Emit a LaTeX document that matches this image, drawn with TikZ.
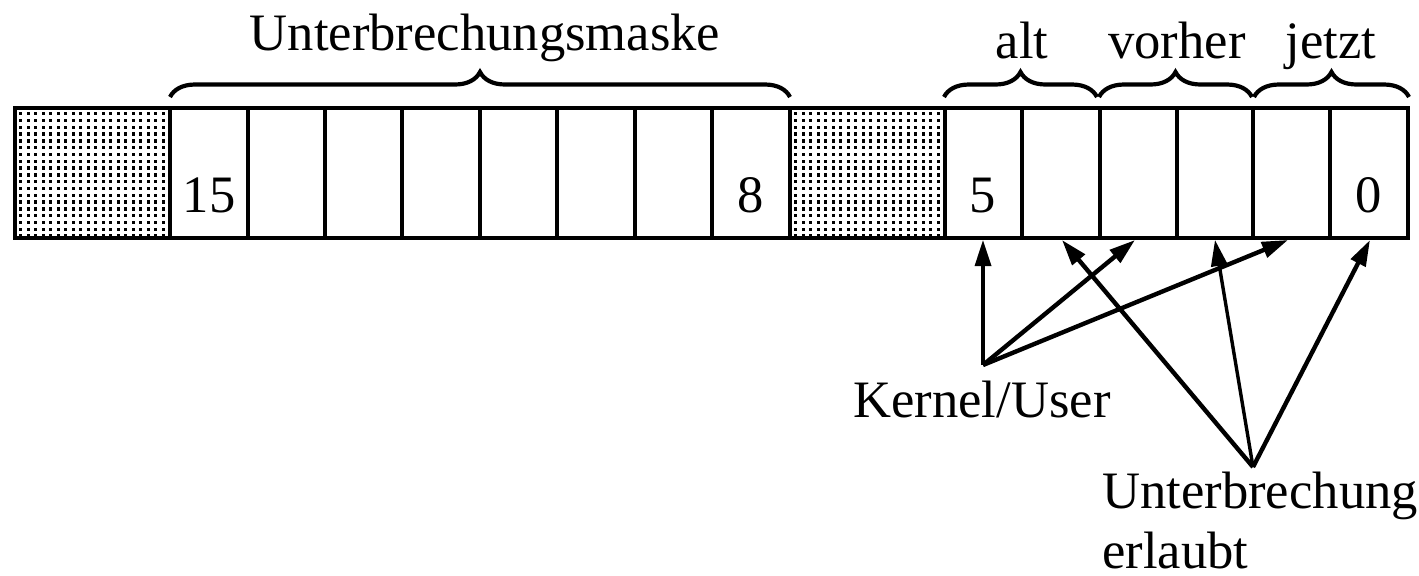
\documentclass[tikz,border=0pt]{standalone}
\usepackage{fontspec}
\setmainfont{Liberation Serif}
\usetikzlibrary{arrows.meta,decorations.pathreplacing}
\begin{document}
\begin{tikzpicture}[x=0.5pt,y=-0.5pt,
  reg/.style={line width=2.3pt},
  brc/.style={line width=2.1pt, decorate, decoration={brace,amplitude=12.5pt}},
  lbl/.style={font=\fontsize{26.3}{30}\selectfont, inner sep=0pt, anchor=base},
  arr/.style={line width=2.2pt, -{Triangle[length=13pt,width=8pt]}},
  arrthin/.style={line width=1.7pt, -{Triangle[length=13pt,width=8pt]}}]
\useasboundingbox (0,0) rectangle (1419,575);
% dotted (shaded) fields
\foreach \xa/\xb in {15/170, 790/945} {
  \begin{scope}
    \clip (\xa,108) rectangle (\xb,238);
    \foreach \i in {0,...,21} {
      \foreach \j in {0,...,19} {
        \fill (\xa+4+\i*7.5, 112+\j*6.8) rectangle ++(3.4,3.4);
      }
    }
  \end{scope}
}
% register
\foreach \x in {170,248,325,402,480,557,635,712,790,945,1022,1100,1177,1253,1330}
  \draw[reg] (\x,108) -- (\x,238);
\draw[reg] (15,108) rectangle (1408,238);
% bit numbers
\node[lbl] (n15) at (209,212) {15};
\node[lbl] (n8) at (751,212) {8};
\node[lbl] (n5) at (983,212) {5};
\node[lbl] (n0) at (1369,212) {0};
% braces
\draw[brc] (170,97) -- (790,97);
\draw[brc] (944,97) -- (1097,97);
\draw[brc] (1099,97) -- (1252,97);
\draw[brc] (1254,97) -- (1409,97);
\node[lbl] (mask) at (485,50) {Unterbrechungsmaske};
\node[lbl] (alt) at (1022,58) {alt};
\node[lbl] (vorher) at (1177,58) {vorher};
\node[lbl] (jetzt) at (1331,58) {jetzt};
% lower labels
\node[lbl] (ku) at (982,417) {Kernel/User};
\node[lbl, anchor=base west] (ue1) at (1102,508) {Unterbrechung};
\node[lbl, anchor=base west] (ue2) at (1102,568) {erlaubt};
% arrow sources and targets
\coordinate (kus) at (983,365);
\coordinate (ues) at (1253,467);
\coordinate (t5) at (983,240);
\coordinate (t3) at (1135,240);
\coordinate (t1) at (1288,240);
\coordinate (t4) at (1062,240);
\coordinate (t2) at (1215,240);
\coordinate (t0) at (1370,240);
\draw[arrthin] (kus) -- (t5);
\draw[arr] (kus) -- (t3);
\draw[arr] (kus) -- (t1);
\draw[arr] (ues) -- (t4);
\draw[arrthin] (ues) -- (t2);
\draw[arr] (ues) -- (t0);
\end{tikzpicture}
\end{document}
